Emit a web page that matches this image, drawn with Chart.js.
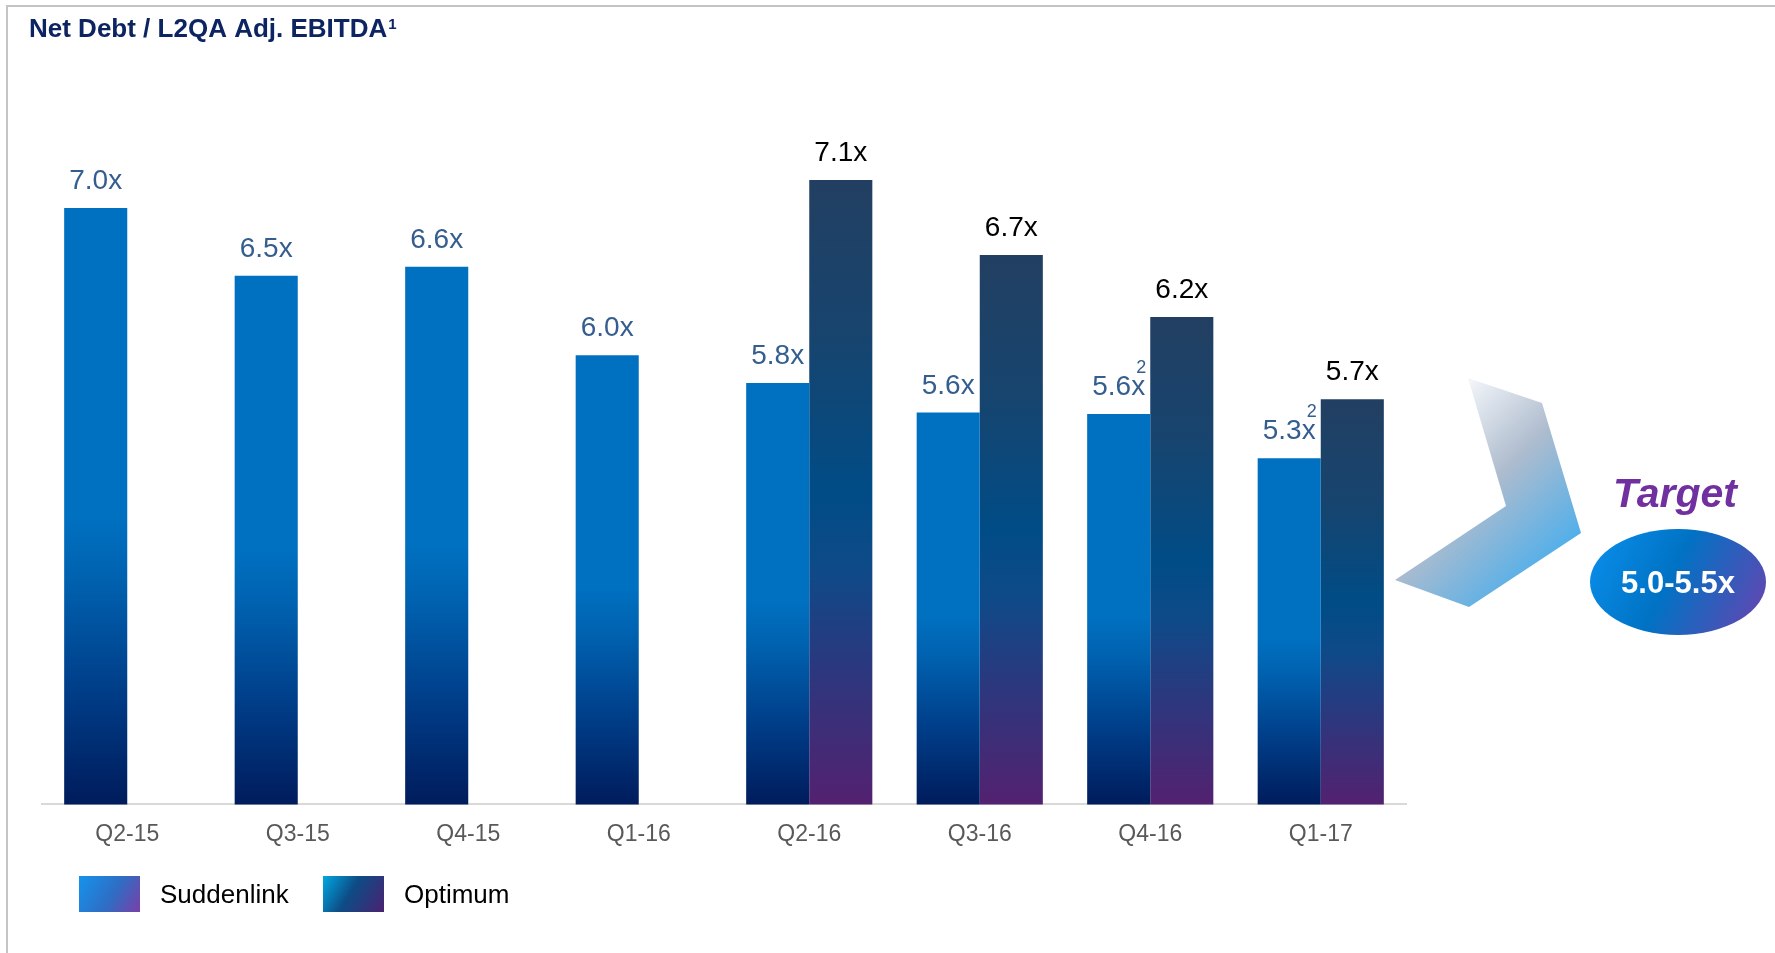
<!DOCTYPE html>
<html>
<head>
<meta charset="utf-8">
<script src="https://cdn.jsdelivr.net/npm/chart.js@4"></script>
<style>
  html, body { margin: 0; padding: 0; background: #fff; }
  #wrap { width: 1775px; height: 953px; position: relative; }
</style>
</head>
<body>
<div id="wrap"><canvas id="netDebtChart" width="1775" height="953"></canvas></div>
<script>
"use strict";

const FONT = '"Liberation Sans", Arial, sans-serif';

// data
const quarters = ['Q2-15', 'Q3-15', 'Q4-15', 'Q1-16', 'Q2-16', 'Q3-16', 'Q4-16', 'Q1-17'];
const suddenlink = [7.0, 6.54, 6.6, 6.0, 5.81, 5.61, 5.6, 5.3];
const optimum = [null, null, null, null, 7.19, 6.68, 6.26, 5.7];
const suddenlinkLabels = ['7.0x', '6.5x', '6.6x', '6.0x', '5.8x', '5.6x', '5.6x', '5.3x'];
const optimumLabels = [null, null, null, null, '7.1x', '6.7x', '6.2x', '5.7x'];
const suddenlinkNotes = ['', '', '', '', '', '', '2', '2'];
const seriesNames = ['Suddenlink', 'Optimum'];
const targetText = '5.0-5.5x';

const suddenlinkStops = [[0, '#0070C0'], [0.52, '#0070C0'], [0.62, '#0062B0'], [0.8, '#003F8A'], [1, '#001C5C']];
const optimumStops = [[0, '#223F62'], [0.25, '#17446E'], [0.5, '#004C86'], [0.62, '#0E4A88'], [0.78, '#2B387E'], [1, '#532170']];

function barGradient(context, stops) {
    const chart = context.chart;
    const v = context.raw;
    if (!chart.chartArea || v == null) return stops[0][1];
    const y = chart.scales.y;
    const g = chart.ctx.createLinearGradient(0, y.getPixelForValue(v), 0, y.getPixelForValue(y.min));
    stops.forEach(s => g.addColorStop(s[0], s[1]));
    return g;
}

const valueLabels = {
    id: 'valueLabels',
    afterDatasetsDraw: function(chart) {
        const ctx = chart.ctx;
        chart.data.datasets.forEach(function(ds, i) {
            const meta = chart.getDatasetMeta(i);
            meta.data.forEach(function(bar, j) {
                const text = ds.valueLabels[j];
                if (!text) return;
                const y = bar.y - 19;
                ctx.save();
                ctx.font = '28px ' + FONT;
                ctx.fillStyle = ds.labelColor;
                ctx.textAlign = 'center';
                ctx.textBaseline = 'alphabetic';
                ctx.fillText(text, bar.x, y);
                if (ds.notes && ds.notes[j]) {
                    const w = ctx.measureText(text).width;
                    ctx.font = '18px ' + FONT;
                    ctx.textAlign = 'right';
                    ctx.fillText(ds.notes[j], bar.x + w / 2 + 1, y - 22);
                }
                ctx.restore();
            });
        });
    }
};

const slideDecor = {
    id: 'slideDecor',
    afterDraw: function(chart) {
        const ctx = chart.ctx;
        ctx.save();

        // slide frame
        ctx.strokeStyle = '#C4C4C4';
        ctx.lineWidth = 2;
        ctx.beginPath();
        ctx.moveTo(1775, 6);
        ctx.lineTo(7, 6);
        ctx.lineTo(7, 953);
        ctx.stroke();

        // title
        ctx.fillStyle = '#0C2461';
        ctx.font = 'bold 26px ' + FONT;
        ctx.textBaseline = 'alphabetic';
        ctx.textAlign = 'left';
        const title = 'Net Debt / L2QA Adj. EBITDA';
        ctx.fillText(title, 29, 37);
        const tw = ctx.measureText(title).width;
        ctx.font = 'bold 15px ' + FONT;
        ctx.fillText('1', 29 + tw + 1, 29);

        // legend
        const swatches = [
            {x: 79, stops: [[0, '#1593EC'], [0.55, '#2F6DC4'], [1, '#7A3FA8']]},
            {x: 323, stops: [[0, '#00A8E2'], [0.45, '#0D4C86'], [1, '#4B2171']]}
        ];
        swatches.forEach(function(s, i) {
            const g = ctx.createLinearGradient(s.x, 876, s.x + 61, 912);
            s.stops.forEach(st => g.addColorStop(st[0], st[1]));
            ctx.fillStyle = g;
            ctx.fillRect(s.x, 876, 61, 36);
            ctx.fillStyle = '#000';
            ctx.font = '26px ' + FONT;
            ctx.textBaseline = 'middle';
            ctx.fillText(seriesNames[i], s.x + 81, 896);
        });

        // chevron arrow
        const cg = ctx.createLinearGradient(1450, 400, 1585, 540);
        cg.addColorStop(0, '#F2F5F9');
        cg.addColorStop(0.45, '#AEBCCE');
        cg.addColorStop(1, '#4AAEEC');
        ctx.fillStyle = cg;
        ctx.beginPath();
        ctx.moveTo(1468, 378);
        ctx.lineTo(1542, 403);
        ctx.lineTo(1581, 533);
        ctx.lineTo(1469, 607);
        ctx.lineTo(1395, 580);
        ctx.lineTo(1506, 506);
        ctx.closePath();
        ctx.fill();

        // target label and bubble
        ctx.fillStyle = '#7030A0';
        ctx.font = 'italic bold 41px ' + FONT;
        ctx.textAlign = 'center';
        ctx.textBaseline = 'alphabetic';
        ctx.fillText('Target', 1675, 507);

        const eg = ctx.createLinearGradient(1592, 540, 1765, 625);
        eg.addColorStop(0, '#0A8EEA');
        eg.addColorStop(0.45, '#0072C4');
        eg.addColorStop(1, '#6744B0');
        ctx.fillStyle = eg;
        ctx.beginPath();
        ctx.ellipse(1678, 582, 88, 53, 0, 0, Math.PI * 2);
        ctx.fill();
        ctx.fillStyle = '#fff';
        ctx.font = 'bold 31px ' + FONT;
        ctx.textBaseline = 'middle';
        ctx.fillText(targetText, 1678, 584);

        ctx.restore();
    }
};

new Chart(document.getElementById('netDebtChart').getContext('2d'), {
    type: 'bar',
    data: {
        labels: quarters,
        datasets: [{
            label: seriesNames[0],
            data: suddenlink,
            valueLabels: suddenlinkLabels,
            notes: suddenlinkNotes,
            labelColor: '#355E8E',
            backgroundColor: ctx => barGradient(ctx, suddenlinkStops),
            borderWidth: 0
        }, {
            label: seriesNames[1],
            data: optimum,
            valueLabels: optimumLabels,
            labelColor: '#000000',
            backgroundColor: ctx => barGradient(ctx, optimumStops),
            borderWidth: 0
        }]
    },
    options: {
        responsive: false,
        animation: false,
        categoryPercentage: 0.74,
        barPercentage: 1.0,
        layout: {
            padding: {left: 42, right: 369, top: 100, bottom: 89}
        },
        plugins: {
            legend: {display: false},
            title: {display: false},
            tooltip: {enabled: false}
        },
        scales: {
            x: {
                grid: {display: false, drawTicks: false},
                border: {display: true, color: '#D9D9D9', width: 2},
                ticks: {
                    color: '#595959',
                    padding: 16,
                    font: {family: FONT, size: 23}
                }
            },
            y: {
                display: false,
                min: 2.947,
                max: 7.734
            }
        }
    },
    plugins: [valueLabels, slideDecor]
});
</script>
</body>
</html>
